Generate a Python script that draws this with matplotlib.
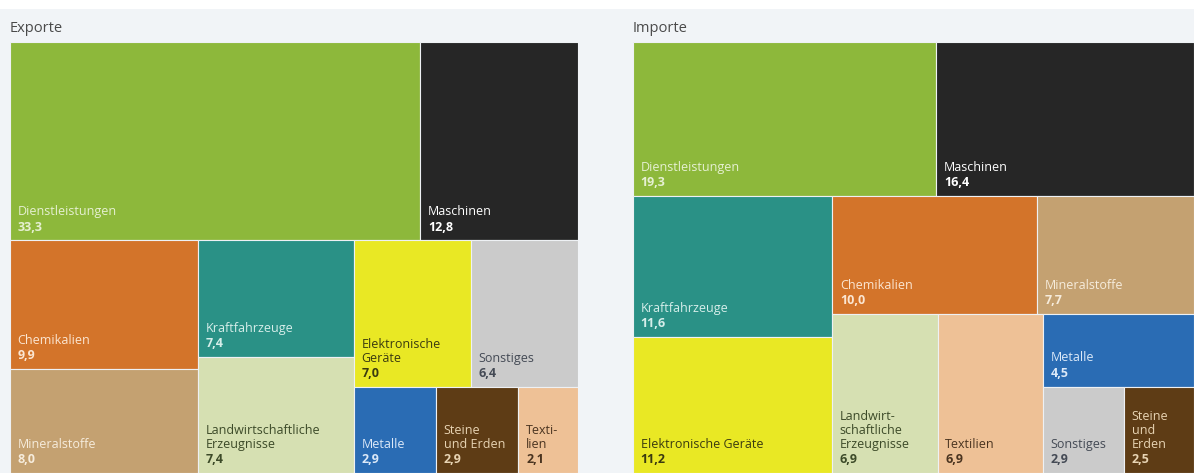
import matplotlib
matplotlib.use('Agg')
import matplotlib.pyplot as plt
from matplotlib.patches import Rectangle

plt.rcParams['font.family'] = ['Open Sans', 'DejaVu Sans']

# categories (same order in both panels for colours)
categories = ['Dienstleistungen', 'Maschinen', 'Chemikalien', 'Mineralstoffe',
              'Kraftfahrzeuge', 'Landwirtschaftliche Erzeugnisse',
              'Elektronische Geräte', 'Sonstiges', 'Metalle',
              'Steine und Erden', 'Textilien']

colors = {'Dienstleistungen': '#8db83b', 'Maschinen': '#262626',
          'Chemikalien': '#d3742a', 'Mineralstoffe': '#c4a171',
          'Kraftfahrzeuge': '#2a9186', 'Landwirtschaftliche Erzeugnisse': '#d6e0b2',
          'Elektronische Geräte': '#e9e824', 'Sonstiges': '#cbcbcb',
          'Metalle': '#2a6cb4', 'Steine und Erden': '#5e3c15',
          'Textilien': '#eec196'}
text_colors = {'Dienstleistungen': '#e6f0d2', 'Maschinen': '#ffffff',
               'Chemikalien': '#fbe6d2', 'Mineralstoffe': '#f6ecdc',
               'Kraftfahrzeuge': '#d6eeea', 'Landwirtschaftliche Erzeugnisse': '#3c4a28',
               'Elektronische Geräte': '#3a3a10', 'Sonstiges': '#444a55',
               'Metalle': '#dce9f8', 'Steine und Erden': '#e8d4b4',
               'Textilien': '#4a3420'}

# Exporte
exp_names = ['Dienstleistungen', 'Maschinen', 'Chemikalien', 'Mineralstoffe',
             'Kraftfahrzeuge', 'Landwirtschaftliche Erzeugnisse',
             'Elektronische Geräte', 'Sonstiges', 'Metalle',
             'Steine und Erden', 'Textilien']
exp_values = [33.3, 12.8, 9.9, 8.0, 7.4, 7.4, 7.0, 6.4, 2.9, 2.9, 2.1]
exp_labels = ['Dienstleistungen', 'Maschinen', 'Chemikalien', 'Mineralstoffe',
              'Kraftfahrzeuge', 'Landwirtschaftliche\nErzeugnisse',
              'Elektronische\nGeräte', 'Sonstiges', 'Metalle',
              'Steine\nund Erden', 'Texti-\nlien']

# Importe
imp_names = ['Dienstleistungen', 'Maschinen', 'Kraftfahrzeuge',
             'Elektronische Geräte', 'Chemikalien', 'Mineralstoffe',
             'Landwirtschaftliche Erzeugnisse', 'Textilien', 'Metalle',
             'Sonstiges', 'Steine und Erden']
imp_values = [19.3, 16.4, 11.6, 11.2, 10.0, 7.7, 6.9, 6.9, 4.5, 2.9, 2.5]
imp_labels = ['Dienstleistungen', 'Maschinen', 'Kraftfahrzeuge',
              'Elektronische Geräte', 'Chemikalien', 'Mineralstoffe',
              'Landwirt-\nschaftliche\nErzeugnisse', 'Textilien', 'Metalle',
              'Sonstiges', 'Steine\nund\nErden']

# nesting of the treemaps: 'v' stacks top to bottom, 'h' side by side
exp_tree = ('v', [('h', [0, 1]),
                  ('h', [('v', [2, 3]), ('v', [4, 5]),
                         ('v', [('h', [6, 7]), ('h', [8, 9, 10])])])])
imp_tree = ('v', [('h', [0, 1]),
                  ('h', [('v', [2, 3]),
                         ('v', [('h', [4, 5]),
                                ('h', [6, 7, ('v', [8, ('h', [9, 10])])])])])])


def total(node, vals):
    if isinstance(node, int):
        return vals[node]
    return sum(total(c, vals) for c in node[1])


def layout(node, vals, x, y, w, h, out):
    if isinstance(node, int):
        out[node] = (x, y, w, h)
        return
    direction, children = node
    tot = total(node, vals)
    pos = 0.0
    for c in children:
        frac = total(c, vals) / tot
        if direction == 'h':
            layout(c, vals, x + pos * w, y, w * frac, h, out)
        else:
            layout(c, vals, x, y + pos * h, w, h * frac, out)
        pos += frac


def draw(ax, title, names, values, labels, tree):
    rects = {}
    layout(tree, values, 0.0, 0.0, 1.0, 1.0, rects)
    for i, name in enumerate(names):
        x, y, w, h = rects[i]
        ax.add_patch(Rectangle((x, y), w, h, facecolor=colors[name],
                               edgecolor='#eef1f4', linewidth=0.8))
        tc = text_colors[name]
        val = '{:.1f}'.format(values[i]).replace('.', ',')
        ax.annotate(val, xy=(x, y + h), xytext=(5.5, 5), textcoords='offset points',
                    ha='left', va='bottom', fontsize=9, fontweight='bold', color=tc)
        ax.annotate(labels[i], xy=(x, y + h), xytext=(5.5, 16), textcoords='offset points',
                    ha='left', va='bottom', fontsize=9, color=tc, linespacing=1.1)
    ax.set_xlim(0, 1)
    ax.set_ylim(1, 0)
    ax.axis('off')
    ax.annotate(title, xy=(0, 1), xycoords='axes fraction', xytext=(0, 7.5),
                textcoords='offset points', ha='left', va='baseline',
                fontsize=10.5, color='#4a4a4a')


fig = plt.figure(figsize=(11.94, 4.73), dpi=100, facecolor='#f1f4f7')
fig.patches.append(Rectangle((0, 1 - 9 / 473), 1, 9 / 473, transform=fig.transFigure,
                             facecolor='white', edgecolor='none', zorder=-1))

ax1 = fig.add_axes([10 / 1194, 0, 568 / 1194, 431 / 473])
draw(ax1, 'Exporte', exp_names, exp_values, exp_labels, exp_tree)

ax2 = fig.add_axes([633 / 1194, 0, 561 / 1194, 431 / 473])
draw(ax2, 'Importe', imp_names, imp_values, imp_labels, imp_tree)

fig.savefig('out.png', dpi=100, facecolor=fig.get_facecolor())
